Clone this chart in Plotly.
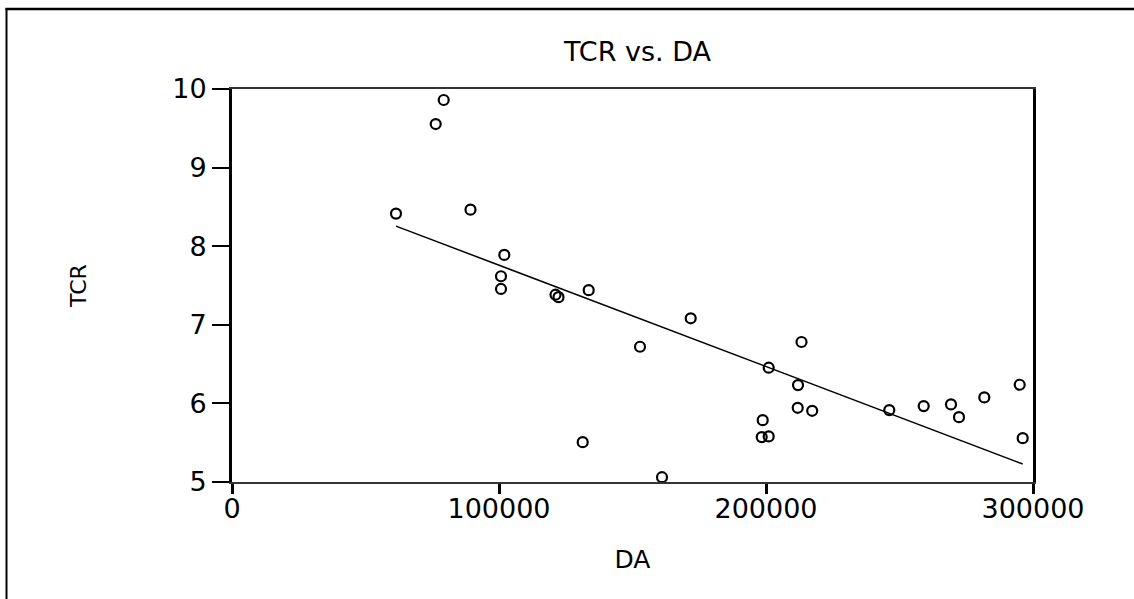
import numpy as np
import plotly.graph_objects as go

# ---- data ----
da = [61423, 76292, 79288, 89325, 101985, 100749, 100749, 121160, 122284, 133595,
      152808, 171797, 131348, 161048, 201010, 213295, 211984, 211872, 217302, 198763,
      198389, 201010, 246179, 259063, 269287, 272283, 281759, 295015, 296141]
tcr = [8.415, 9.554, 9.860, 8.465, 7.889, 7.618, 7.456, 7.383, 7.352, 7.441,
       6.721, 7.083, 5.507, 5.061, 6.454, 6.781, 6.233, 5.944, 5.906, 5.787,
       5.571, 5.580, 5.915, 5.966, 5.987, 5.825, 6.076, 6.237, 5.558]

x_tick_vals = [0, 100000, 200000, 300000]
x_tick_text = ["0", "100000", "200000", "300000"]
y_tick_vals = [5, 6, 7, 8, 9, 10]
y_tick_text = ["5", "6", "7", "8", "9", "10"]

title_text = "TCR vs. DA"
x_title = "DA"
y_title = "TCR"

# ---- least-squares fit line ----
x_arr = np.array(da, dtype=float)
y_arr = np.array(tcr, dtype=float)
slope, intercept = np.polyfit(x_arr, y_arr, 1)
fit_x = [x_arr.min(), x_arr.max()]
fit_y = [intercept + slope * v for v in fit_x]

FONT = "DejaVu Sans"

fig = go.Figure()
fig.add_trace(go.Scatter(
    x=da, y=tcr, mode="markers",
    marker=dict(symbol="circle-open", size=10, color="black", line=dict(width=2.2, color="black")),
    showlegend=False, hoverinfo="x+y",
))
fig.add_trace(go.Scatter(
    x=fit_x, y=fit_y, mode="lines",
    line=dict(color="black", width=1.5),
    showlegend=False, hoverinfo="skip",
))

W, H = 1134, 599
L, R, T, B = 232, 101, 89, 117
pw, ph = W - L - R, H - T - B

def px_x(p):
    return (p - L) / pw

def px_y(p):
    return (H - B - p) / ph

fig.update_layout(
    width=W, height=H,
    margin=dict(l=L, r=R, t=T, b=B, autoexpand=False),
    paper_bgcolor="white", plot_bgcolor="white",
    font=dict(family=FONT, color="black"),
    title=dict(text=title_text, x=637.5 / W, xanchor="center", y=1 - 51.5 / H, yanchor="middle",
               font=dict(family=FONT, size=27, color="black")),
    xaxis=dict(
        range=[0, 300000], tickmode="array", tickvals=x_tick_vals, ticktext=x_tick_text,
        ticks="outside", ticklen=10, tickwidth=3, tickcolor="black",
        tickfont=dict(family=FONT, size=27, color="black"), ticklabelstandoff=-8,
        showline=True, linecolor="#333333", linewidth=2, mirror=True,
        showgrid=False, zeroline=False, automargin=False,
        title=dict(text=x_title, font=dict(family=FONT, size=25, color="black"), standoff=27),
    ),
    yaxis=dict(
        range=[5, 10], tickmode="array", tickvals=y_tick_vals, ticktext=y_tick_text,
        ticks="outside", ticklen=17, tickwidth=1.5, tickcolor="black",
        tickfont=dict(family=FONT, size=27, color="black"),
        showline=True, linecolor="black", linewidth=3, mirror=True,
        showgrid=False, zeroline=False, automargin=False,
        title=dict(text=y_title, font=dict(family=FONT, size=22, color="black"), standoff=80),
    ),
    shapes=[
        dict(type="line", xref="paper", yref="paper",
             x0=px_x(5.5), x1=px_x(1140), y0=px_y(9), y1=px_y(9),
             line=dict(color="black", width=2.5)),
        dict(type="line", xref="paper", yref="paper",
             x0=px_x(6.5), x1=px_x(6.5), y0=px_y(8), y1=px_y(605),
             line=dict(color="black", width=2)),
    ],
)

fig.write_html(
    "out.html",
    config={"displayModeBar": False},
    post_script="document.body.style.margin='0';document.body.style.overflow='hidden';",
)
